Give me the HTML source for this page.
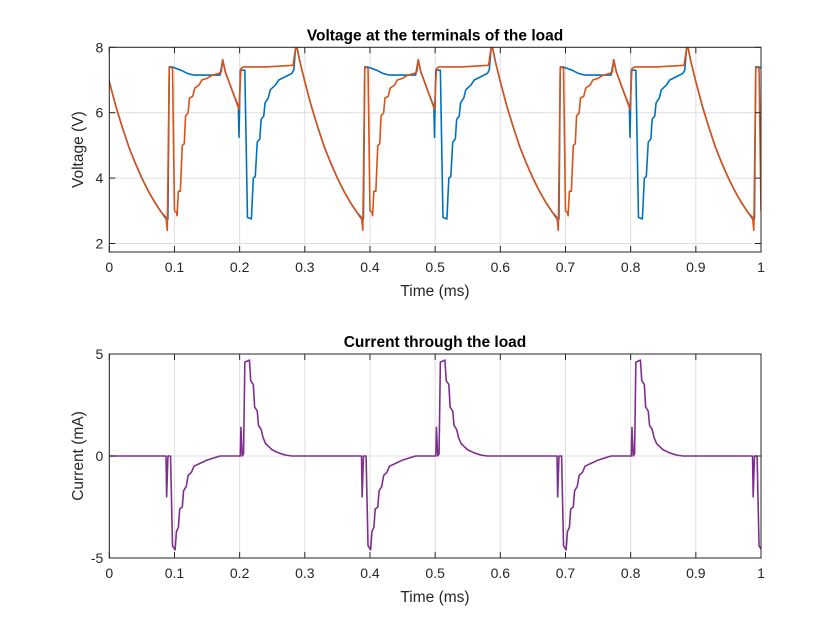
<!DOCTYPE html>
<html><head><meta charset="utf-8"><style>
body{margin:0;background:#fff;}
svg{display:block;font-family:"Liberation Sans",Arial,sans-serif;}
</style></head><body>
<svg id="fig" width="840" height="630" viewBox="0 0 840 630">
<rect width="840" height="630" fill="#fff"/>
<defs>
<clipPath id="c1"><rect x="109.3" y="47.3" width="651.7" height="204.7"/></clipPath>
<clipPath id="c2"><rect x="109.3" y="354" width="651.7" height="204"/></clipPath>
</defs>
<g id="ax1"></g>
<g id="ax2"></g>
</svg>
<script>
// Voltage data for one cycle (ms, V); cycle repeats at these offsets
const cycleOffsets = [0, 0.3, 0.6, 0.9];
const tOrange = [-0.012,-0.008,0,0.01,0.02,0.03,0.04,0.05,0.06,0.07,0.08,0.087,0.089,0.092,0.094,0.097,0.1,0.103,0.104,0.106,0.109,0.112,0.115,0.117,0.121,0.123,0.128,0.131,0.138,0.142,0.15,0.158,0.168,0.172,0.174,0.178,0.19,0.199,0.202,0.206,0.24,0.282,0.286];
const vOrange = [8.0,7.6,6.95,6.2,5.55,4.95,4.45,4.0,3.6,3.25,2.95,2.8,2.4,7.35,7.4,7.35,3.0,2.95,2.85,3.6,3.6,5.0,5.05,5.9,6.0,6.45,6.5,6.75,6.85,7.0,7.05,7.15,7.2,7.25,7.62,7.25,6.6,6.1,7.35,7.4,7.4,7.45,8.0];
const tBlue = [-0.012,-0.008,0,0.01,0.02,0.03,0.04,0.05,0.06,0.07,0.08,0.087,0.09,0.092,0.096,0.11,0.12,0.13,0.17,0.174,0.178,0.19,0.198,0.199,0.201,0.208,0.212,0.218,0.221,0.224,0.227,0.231,0.233,0.237,0.239,0.244,0.247,0.255,0.26,0.27,0.28,0.283,0.286];
const vBlue = [8.0,7.6,6.95,6.2,5.55,4.95,4.45,4.0,3.6,3.25,2.95,2.75,2.75,7.4,7.4,7.3,7.2,7.15,7.15,7.62,7.25,6.6,6.2,5.25,7.3,7.3,2.8,2.75,4.0,4.05,5.1,5.2,5.8,5.9,6.3,6.45,6.7,6.85,7.0,7.1,7.2,7.3,8.0];
// Current data for one cycle (ms, mA)
const tCur = [-0.012,0.087,0.088,0.09,0.094,0.097,0.101,0.103,0.106,0.108,0.112,0.114,0.118,0.121,0.126,0.13,0.14,0.15,0.16,0.17,0.201,0.202,0.204,0.206,0.208,0.215,0.217,0.221,0.223,0.227,0.229,0.233,0.236,0.24,0.245,0.25,0.26,0.27,0.28,0.288];
const iCur = [0,0,-2.0,0,0,-4.4,-4.6,-3.7,-3.5,-2.6,-2.5,-1.7,-1.5,-0.95,-0.8,-0.5,-0.35,-0.2,-0.1,0,0,1.4,0,0.1,4.6,4.7,3.7,3.5,2.4,2.2,1.5,1.3,0.9,0.6,0.45,0.3,0.15,0.05,0,0];
const xTicks = [0,0.1,0.2,0.3,0.4,0.5,0.6,0.7,0.8,0.9,1];
const xTickLabels = ["0","0.1","0.2","0.3","0.4","0.5","0.6","0.7","0.8","0.9","1"];
const y1Ticks = [2,4,6,8];
const y2Ticks = [-5,0,5];

const NS="http://www.w3.org/2000/svg";
function mk(tag,attrs,parent){const e=document.createElementNS(NS,tag);for(const k in attrs)e.setAttribute(k,attrs[k]);parent.appendChild(e);return e;}
const L=109.3,R=761;
const xS=t=>L+(t-0)/(1-0)*(R-L);

function drawAxes(g,top,bot,ymin,ymax,yTicks,title,ylabel,clip,series){
  const yS=v=>bot-(v-ymin)/(ymax-ymin)*(bot-top);
  // grid
  xTicks.forEach(t=>{const l=mk('line',{x1:xS(t),x2:xS(t),y1:top,y2:bot,stroke:'#dfdfdf','stroke-width':1},g);
    
    });
  yTicks.forEach(v=>{const l=mk('line',{x1:L,x2:R,y1:yS(v),y2:yS(v),stroke:'#dfdfdf','stroke-width':1},g);
    
    });
  // series
  const sg=mk('g',{'clip-path':'url(#'+clip+')'},g);
  series.forEach(s=>{
    cycleOffsets.forEach(off=>{
      let d='';
      s.t.forEach((t,i)=>{d+=(i?'L':'M')+xS(t+off).toFixed(2)+','+yS(s.v[i]).toFixed(2);});
      const p=mk('path',{d:d,fill:'none',stroke:s.c,'stroke-width':1.6,'stroke-linejoin':'round'},sg);
      
      
    });
  });
  // box
  const b=mk('rect',{x:L,y:top,width:R-L,height:bot-top,fill:'none',stroke:'#262626','stroke-width':1},g);
  
  
  // ticks
  xTicks.forEach((t,i)=>{
    mk('line',{x1:xS(t),x2:xS(t),y1:bot,y2:bot-6,stroke:'#262626'},g);
    mk('line',{x1:xS(t),x2:xS(t),y1:top,y2:top+6,stroke:'#262626'},g);
    const tx=mk('text',{x:xS(t),y:bot+20,'text-anchor':'middle','font-size':14,fill:'#262626'},g);
    tx.textContent=xTickLabels[i];
    
    
  });
  yTicks.forEach(v=>{
    mk('line',{x1:L,x2:L+6,y1:yS(v),y2:yS(v),stroke:'#262626'},g);
    mk('line',{x1:R,x2:R-6,y1:yS(v),y2:yS(v),stroke:'#262626'},g);
    const tx=mk('text',{x:L-6,y:yS(v)+5,'text-anchor':'end','font-size':14,fill:'#262626'},g);
    tx.textContent=String(v);
    
    
  });
  const ti=mk('text',{x:435,y:top-7,'text-anchor':'middle','font-size':15.5,'font-weight':'bold',fill:'#000'},g);
  ti.textContent=title;
  
  
  const xl=mk('text',{x:435,y:bot+44,'text-anchor':'middle','font-size':15.5,fill:'#262626'},g);
  xl.textContent='Time (ms)';
  
  
  const cy=(top+bot)/2;
  const yl=mk('text',{x:83,y:cy,'text-anchor':'middle','font-size':15.5,fill:'#262626',transform:'rotate(-90 83 '+cy+')'},g);
  yl.textContent=ylabel;
  
  
}
drawAxes(document.getElementById('ax1'),47.3,252,1.74,8,y1Ticks,'Voltage at the terminals of the load','Voltage (V)','c1',
 [{t:tBlue,v:vBlue,c:'#0072BD',name:'blue-voltage-line'},{t:tOrange,v:vOrange,c:'#D95319',name:'orange-voltage-line'}]);
drawAxes(document.getElementById('ax2'),354,558,-5,5,y2Ticks,'Current through the load','Current (mA)','c2',
 [{t:tCur,v:iCur,c:'#7E2F8E',name:'current-line'}]);
</script>
</body></html>
